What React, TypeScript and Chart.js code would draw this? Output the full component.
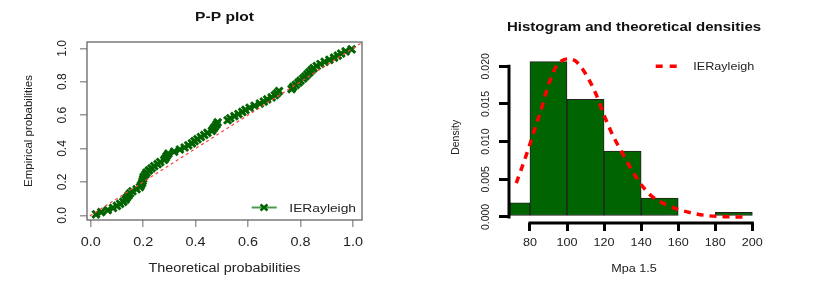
import React, { useEffect, useRef } from 'react';
import { Chart, registerables } from 'chart.js';

Chart.register(...registerables);

// ---------- P-P plot data ----------
const ppEmpirical = [
  0.006, 0.019, 0.031, 0.044, 0.056, 0.069, 0.081, 0.094, 0.106, 0.119,
  0.131, 0.144, 0.156, 0.169, 0.181, 0.194, 0.206, 0.219, 0.231, 0.244,
  0.256, 0.269, 0.281, 0.294, 0.306, 0.319, 0.331, 0.344, 0.356, 0.369,
  0.381, 0.394, 0.406, 0.419, 0.431, 0.444, 0.456, 0.469, 0.481, 0.494,
  0.506, 0.519, 0.531, 0.544, 0.556, 0.569, 0.581, 0.594, 0.606, 0.619,
  0.631, 0.644, 0.656, 0.669, 0.681, 0.694, 0.706, 0.719, 0.731, 0.744,
  0.756, 0.769, 0.781, 0.794, 0.806, 0.819, 0.831, 0.844, 0.856, 0.869,
  0.881, 0.894, 0.906, 0.919, 0.931, 0.944, 0.956, 0.969, 0.981, 0.994,
];
const ppTheoretical = [
  0.020, 0.040, 0.065, 0.085, 0.100, 0.112, 0.124, 0.133, 0.138, 0.144,
  0.150, 0.159, 0.175, 0.188, 0.192, 0.196, 0.198, 0.200, 0.202, 0.208,
  0.213, 0.222, 0.232, 0.242, 0.255, 0.265, 0.280, 0.286, 0.290, 0.296,
  0.318, 0.340, 0.358, 0.372, 0.386, 0.396, 0.407, 0.420, 0.433, 0.445,
  0.462, 0.468, 0.474, 0.480, 0.484, 0.522, 0.532, 0.548, 0.563, 0.578,
  0.590, 0.606, 0.625, 0.645, 0.660, 0.673, 0.690, 0.702, 0.710, 0.718,
  0.766, 0.772, 0.782, 0.792, 0.800, 0.810, 0.818, 0.826, 0.834, 0.842,
  0.850, 0.862, 0.876, 0.892, 0.910, 0.928, 0.942, 0.955, 0.972, 0.995,
];
const ppTicks = [0, 0.2, 0.4, 0.6, 0.8, 1.0];
const ppTickLabels = ['0.0', '0.2', '0.4', '0.6', '0.8', '1.0'];
const diagLine = [-0.1, 1.1];

// ---------- Histogram data ----------
const binCenters = [70, 90, 110, 130, 150, 170, 190];
const binDensities = [0.001875, 0.020625, 0.015625, 0.00875, 0.0025, 0, 0.000625];
const curveX = [72.6, 76, 79.5, 83, 86, 88.5, 91, 94, 97, 101, 104, 107, 111, 115.5, 120, 125, 130, 135, 140, 145, 152, 160, 168, 176, 185, 197.5];
const curveY = [0.0045, 0.0068, 0.0093, 0.012, 0.0142, 0.0164, 0.0182, 0.0199, 0.0207, 0.021, 0.0208, 0.0201, 0.0186, 0.0164, 0.0135, 0.0107, 0.0084, 0.0062, 0.0043, 0.0029, 0.0018, 0.001, 0.0005, 0.00017, 0.00004, 0];
const histXTicks = [80, 100, 120, 140, 160, 180, 200];
const histYTicks = [0, 0.005, 0.01, 0.015, 0.02];
const histYLabels = ['0.000', '0.005', '0.010', '0.015', '0.020'];

const FONT = "'Liberation Sans', Arial, Helvetica, sans-serif";
const SX = 1.2;

function hText(ctx: CanvasRenderingContext2D, text: string, x: number, capY: number, size: number, bold: boolean, color: string, align: CanvasTextAlign = 'center') {
  ctx.save();
  ctx.translate(x, capY + 0.358 * size);
  ctx.scale(SX, 1);
  ctx.font = `${bold ? 'bold ' : ''}${size}px ${FONT}`;
  ctx.fillStyle = color;
  ctx.textAlign = align;
  ctx.textBaseline = 'alphabetic';
  ctx.fillText(text, 0, 0);
  ctx.restore();
}

function vText(ctx: CanvasRenderingContext2D, text: string, capX: number, y: number, size: number, color: string) {
  ctx.save();
  ctx.translate(capX + 0.358 * size, y);
  ctx.rotate(-Math.PI / 2);
  ctx.font = `${size}px ${FONT}`;
  ctx.fillStyle = color;
  ctx.textAlign = 'center';
  ctx.textBaseline = 'alphabetic';
  ctx.fillText(text, 0, 0);
  ctx.restore();
}

const leftDecor = {
  id: 'leftDecor',
  afterDraw(chart: any) {
    const ctx: CanvasRenderingContext2D = chart.ctx;
    const ca = chart.chartArea;
    const xs = chart.scales.x;
    const ys = chart.scales.y;
    ctx.save();
    ctx.strokeStyle = '#666';
    ctx.lineWidth = 1.3;
    ctx.strokeRect(ca.left, ca.top, ca.right - ca.left, ca.bottom - ca.top);
    ctx.restore();
    const cx = (ca.left + ca.right) / 2;
    hText(ctx, 'P-P plot', cx, 16, 13, true, '#111');
    ppTicks.forEach((v, i) => {
      hText(ctx, ppTickLabels[i], xs.getPixelForValue(v), 241.5, 12, false, '#222');
      vText(ctx, ppTickLabels[i], 61.7, ys.getPixelForValue(v), 12, '#222');
    });
    hText(ctx, 'Theoretical probabilities', cx, 268, 12, false, '#222');
    vText(ctx, 'Empirical probabilities', 28, 131, 11.5, '#222');
    // legend
    ctx.save();
    ctx.strokeStyle = '#4a9a4a';
    ctx.lineWidth = 2;
    ctx.beginPath();
    ctx.moveTo(251.7, 207.5);
    ctx.lineTo(276.7, 207.5);
    ctx.stroke();
    ctx.strokeStyle = '#006400';
    ctx.lineWidth = 2.5;
    ctx.beginPath();
    ctx.moveTo(264 - 3.5, 207.5 - 3);
    ctx.lineTo(264 + 3.5, 207.5 + 3);
    ctx.moveTo(264 - 3.5, 207.5 + 3);
    ctx.lineTo(264 + 3.5, 207.5 - 3);
    ctx.stroke();
    ctx.restore();
    hText(ctx, 'IERayleigh', 289.3, 207.5, 11.5, false, '#222', 'left');
  },
};

const rightDecor = {
  id: 'rightDecor',
  afterDraw(chart: any) {
    const ctx: CanvasRenderingContext2D = chart.ctx;
    const ca = chart.chartArea;
    const xs = chart.scales.x;
    const ys = chart.scales.y;
    ctx.save();
    ctx.strokeStyle = '#000';
    ctx.lineWidth = 3;
    ctx.beginPath();
    ctx.moveTo(ca.left, ys.getPixelForValue(histYTicks[0]) + 1.5);
    ctx.lineTo(ca.left, ys.getPixelForValue(histYTicks[histYTicks.length - 1]) - 1.5);
    ctx.moveTo(xs.getPixelForValue(histXTicks[0]) - 1.5, ca.bottom);
    ctx.lineTo(xs.getPixelForValue(histXTicks[histXTicks.length - 1]) + 1.5, ca.bottom);
    ctx.stroke();
    ctx.restore();
    const cx = (ca.left + ca.right) / 2;
    hText(ctx, 'Histogram and theoretical densities', cx, 27, 12.5, true, '#111');
    histXTicks.forEach((v) => {
      hText(ctx, String(v), xs.getPixelForValue(v), 242, 10.5, false, '#222');
    });
    histYTicks.forEach((v, i) => {
      vText(ctx, histYLabels[i], 71.7, ys.getPixelForValue(v), 10.5, '#222');
    });
    hText(ctx, 'Mpa 1.5', cx, 268, 10.5, false, '#222');
    vText(ctx, 'Density', 41.7, 137.3, 10.5, '#222');
    // legend
    ctx.save();
    ctx.strokeStyle = '#ff0000';
    ctx.lineWidth = 3.5;
    ctx.setLineDash([7, 7]);
    ctx.beginPath();
    ctx.moveTo(241.7, 66.3);
    ctx.lineTo(263.3, 66.3);
    ctx.stroke();
    ctx.restore();
    hText(ctx, 'IERayleigh', 279.3, 66.3, 10.5, false, '#222', 'left');
  },
};

export default function App() {
  const leftRef = useRef<HTMLCanvasElement>(null);
  const rightRef = useRef<HTMLCanvasElement>(null);

  useEffect(() => {
    const left = new Chart(leftRef.current as HTMLCanvasElement, {
      type: 'scatter',
      data: {
        datasets: [
          {
            type: 'line',
            data: diagLine.map((v) => ({ x: v, y: v })),
            borderColor: '#ff4040',
            borderWidth: 1.2,
            borderDash: [3, 3],
            pointRadius: 0,
            fill: false,
          } as any,
          {
            type: 'scatter',
            data: ppTheoretical.map((x, i) => ({ x, y: ppEmpirical[i] })),
            pointStyle: 'crossRot',
            pointRadius: 5,
            borderWidth: 3,
            borderColor: '#006400',
            backgroundColor: '#006400',
          } as any,
        ],
      },
      options: {
        animation: false,
        responsive: false,
        events: [],
        layout: { padding: { left: 0, right: 52, top: 42, bottom: 0 } },
        plugins: { legend: { display: false }, tooltip: { enabled: false }, title: { display: false } },
        scales: {
          x: {
            type: 'linear',
            min: -0.0142,
            max: 1.0345,
            afterBuildTicks: (axis: any) => { axis.ticks = ppTicks.map((v) => ({ value: v })); },
            afterFit: (axis: any) => { axis.height = 83; },
            ticks: { display: false },
            border: { display: false },
            grid: { drawOnChartArea: false, drawTicks: true, tickLength: 7, color: '#999', lineWidth: 1.5 },
          },
          y: {
            type: 'linear',
            min: -0.0281,
            max: 1.0377,
            afterBuildTicks: (axis: any) => { axis.ticks = ppTicks.map((v) => ({ value: v })); },
            afterFit: (axis: any) => { axis.width = 87; },
            ticks: { display: false },
            border: { display: false },
            grid: { drawOnChartArea: false, drawTicks: true, tickLength: 7, color: '#999', lineWidth: 1.5 },
          },
        },
      } as any,
      plugins: [leftDecor],
    });

    const right = new Chart(rightRef.current as HTMLCanvasElement, {
      type: 'bar',
      data: {
        datasets: [
          {
            type: 'line',
            data: curveX.map((x, i) => ({ x, y: curveY[i] })),
            borderColor: '#ff0000',
            borderWidth: 3.5,
            borderDash: [7, 6],
            cubicInterpolationMode: 'monotone',
            pointRadius: 0,
            fill: false,
          } as any,
          {
            type: 'bar',
            data: binCenters.map((x, i) => ({ x, y: binDensities[i] })),
            backgroundColor: '#006400',
            borderColor: '#222',
            borderWidth: 1,
            borderSkipped: false,
            barPercentage: 1,
            categoryPercentage: 1,
          } as any,
        ],
      },
      options: {
        animation: false,
        responsive: false,
        events: [],
        layout: { padding: { left: 0, right: 69, top: 52, bottom: 0 } },
        plugins: { legend: { display: false }, tooltip: { enabled: false }, title: { display: false } },
        scales: {
          x: {
            type: 'linear',
            offset: false,
            min: 68.7,
            max: 203.6,
            afterBuildTicks: (axis: any) => { axis.ticks = histXTicks.map((v) => ({ value: v })); },
            afterFit: (axis: any) => { axis.height = 80; },
            ticks: { display: false },
            border: { display: false },
            grid: { offset: false, drawOnChartArea: false, drawTicks: true, tickLength: 8, color: '#000', lineWidth: 3 },
          },
          y: {
            type: 'linear',
            min: -0.0008,
            max: 0.0219,
            afterBuildTicks: (axis: any) => { axis.ticks = histYTicks.map((v) => ({ value: v })); },
            afterFit: (axis: any) => { axis.width = 95; },
            ticks: { display: false },
            border: { display: false },
            grid: { drawOnChartArea: false, drawTicks: true, tickLength: 10, color: '#000', lineWidth: 3 },
          },
        },
      } as any,
      plugins: [rightDecor],
    });

    return () => {
      left.destroy();
      right.destroy();
    };
  }, []);

  return (
    <div style={{ position: 'fixed', left: 0, top: 0, width: 828, height: 303, background: '#fff' }}>
      <canvas ref={leftRef} width={414} height={303} style={{ position: 'absolute', left: 0, top: 0, width: 414, height: 303 }} />
      <canvas ref={rightRef} width={414} height={303} style={{ position: 'absolute', left: 414, top: 0, width: 414, height: 303 }} />
    </div>
  );
}
